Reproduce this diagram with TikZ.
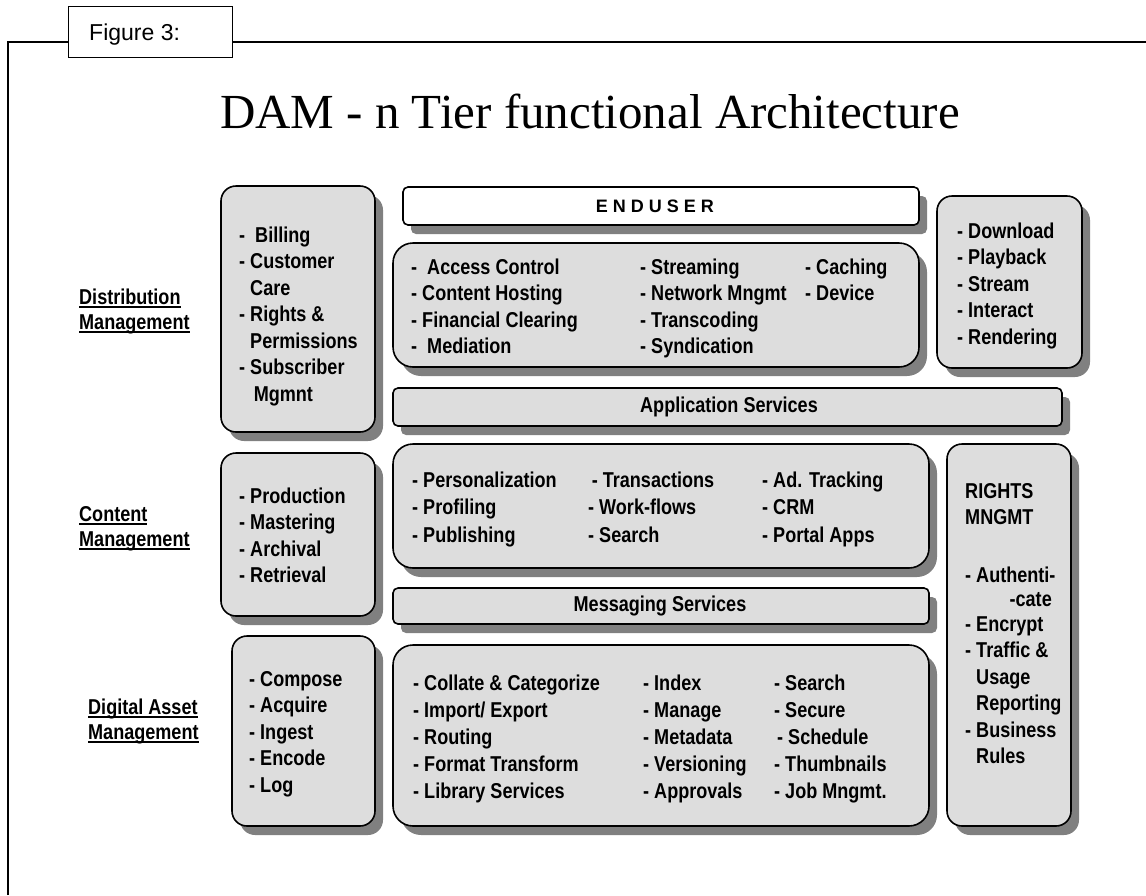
\documentclass[tikz,border=0pt]{standalone}
\usepackage{fontspec}
\setmainfont{Liberation Serif}
\newfontfamily\arialfont{Liberation Sans}
\newfontfamily\narrowfont[FakeStretch=0.84]{Liberation Sans}
\newcommand{\ulabel}[1]{\setbox0\hbox{#1}\rlap{\vrule width\wd0 height -2.2pt depth 3.8pt}\box0}
\newcommand{\itemlist}[1]{\begin{tabular}[t]{@{}l@{}}#1\end{tabular}}
\usetikzlibrary{shadows}
\definecolor{boxgray}{HTML}{DDDDDD}
\definecolor{shadegray}{HTML}{808080}
\tikzset{
  panel/.style={draw, line width=1.6pt, fill=boxgray, rounded corners=15pt,
    anchor=north west, inner sep=0pt, outer sep=0pt,
    general shadow={fill=shadegray, shadow xshift=8pt, shadow yshift=-9pt}},
  bar/.style={panel, rounded corners=5pt},
  items/.style={anchor=base west, inner sep=0pt,
    font=\narrowfont\bfseries\fontsize{21.5}{26.5}\selectfont},
  tier/.style={items, font=\narrowfont\bfseries\fontsize{21.5}{25}\selectfont}
}
\begin{document}
\begin{tikzpicture}[x=1pt,y=-1pt]
    \useasboundingbox (0,0) rectangle (1146,895);
    \draw[line width=1.6pt] (8,895) |- (1146,42);
    \node[draw, line width=1.2pt, fill=white, anchor=north west, inner sep=0pt,
      minimum width=164pt, minimum height=51pt] (figbox) at (68,6) {};
    \node[anchor=base west, inner sep=0pt, font=\arialfont\fontsize{23}{23}\selectfont]
      (figlabel) at (89,40) {Figure 3:};
    \node[anchor=base, inner sep=0pt, font=\fontsize{49}{49}\selectfont]
      (title) at (590,128) {DAM - n Tier functional Architecture};

    \node[tier] (distlbl) at (79,304) {\itemlist{\ulabel{Distribution}\\\ulabel{Management}}};
    \node[tier] (contlbl) at (79,521) {\itemlist{\ulabel{Content}\\\ulabel{Management}}};
    \node[tier] (damlbl) at (88,714) {\itemlist{\ulabel{Digital Asset}\\\ulabel{Management}}};

    \node[panel, minimum width=154pt, minimum height=246pt] (dist) at (221,186) {};
    \node[bar, fill=white, minimum width=516pt, minimum height=38pt] (enduser) at (403,187) {};
    \node[panel, rounded corners=20pt, minimum width=526pt, minimum height=124pt] (distsvc) at (393,243) {};
    \node[panel, minimum width=145pt, minimum height=172pt] (play) at (937,196) {};
    \node[bar, minimum width=669pt, minimum height=38pt] (appsvc) at (393,388) {};
    \node[panel, minimum width=154pt, minimum height=163pt] (cont) at (221,453) {};
    \node[panel, rounded corners=20pt, minimum width=536pt, minimum height=124pt] (contsvc) at (393,444) {};
    \node[panel, minimum width=124pt, minimum height=382pt] (rights) at (947,444) {};
    \node[bar, minimum width=536pt, minimum height=36pt] (msgsvc) at (393,588) {};
    \node[panel, minimum width=143pt, minimum height=190pt] (dam) at (232,636) {};
    \node[panel, rounded corners=20pt, minimum width=536pt, minimum height=181pt] (damsvc) at (393,645) {};

    \node[items] (distitems) at (239,242) {\itemlist{- \ Billing\\- Customer\\\phantom{- }Care\\- Rights \&\\\phantom{- }Permissions\\- Subscriber\\\phantom{- }\,Mgmnt}};
    \node[font=\arialfont\bfseries\fontsize{18}{18}\selectfont, inner sep=0pt] (eutext) at (655,206) {E N D U S E R};
    \node[items] (distcolA) at (411,274) {\itemlist{- \ Access Control\\- Content Hosting\\- Financial Clearing\\- \ Mediation}};
    \node[items] (distcolB) at (640,274) {\itemlist{- Streaming\\- Network Mngmt\\- Transcoding\\- Syndication}};
    \node[items] (distcolC) at (805,274) {\itemlist{- Caching\\- Device}};
    \node[items] (playitems) at (957,238) {\itemlist{- Download\\- Playback\\- Stream\\- Interact\\- Rendering}};
    \node[items, anchor=center] (apptext) at (729,407) {Application Services};

    \node[items] (contitems) at (239,503) {\itemlist{- Production\\- Mastering\\- Archival\\- Retrieval}};
    \node[items] (contcolA) at (412,487) {\itemlist{- Personalization\\[1pt]- Profiling\\[1pt]- Publishing}};
    \node[items] (contcolB) at (588,487) {\itemlist{\,- Transactions\\[1pt]- Work-flows\\[1pt]- Search}};
    \node[items] (contcolC) at (762,487) {\itemlist{- Ad. Tracking\\[1pt]- CRM\\[1pt]- Portal Apps}};
    \node[items] (rightshead) at (965,498) {\itemlist{RIGHTS\\[-0.5pt]MNGMT}};
    \node[items] (authA) at (965,582) {- Authenti-};
    \node[items, anchor=base east] (authB) at (1052,606) {-cate};
    \node[items] (rightsitems) at (965,631) {\itemlist{- Encrypt\\- Traffic \&\\\phantom{- }Usage\\\phantom{- }Reporting\\- Business\\\phantom{- }Rules}};
    \node[items, anchor=center] (msgtext) at (660,606) {Messaging Services};

    \node[items] (damitems) at (249,686) {\itemlist{- Compose\\- Acquire\\- Ingest\\- Encode\\- Log}};
    \node[items] (damcolA) at (413,690) {\itemlist{- Collate \& Categorize\\[0.5pt]- Import/ Export\\[0.5pt]- Routing\\[0.5pt]- Format Transform\\[0.5pt]- Library Services}};
    \node[items] (damcolB) at (643,690) {\itemlist{- Index\\[0.5pt]- Manage\\[0.5pt]- Metadata\\[0.5pt]- Versioning\\[0.5pt]- Approvals}};
    \node[items] (damcolC) at (774,690) {\itemlist{- Search\\[0.5pt]- Secure\\[0.5pt]\hspace{3pt}- Schedule\\[0.5pt]- Thumbnails\\[0.5pt]- Job Mngmt.}};
\end{tikzpicture}
\end{document}
